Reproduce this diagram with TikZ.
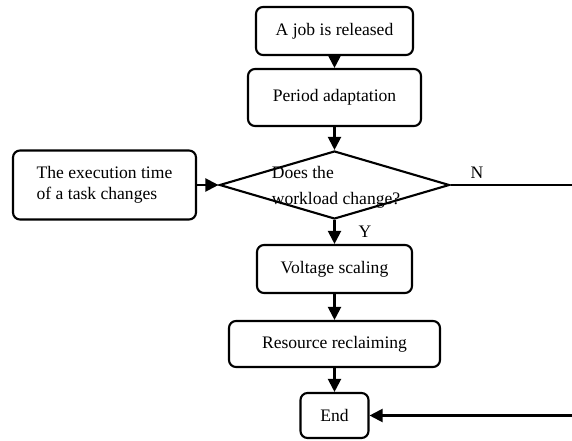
\documentclass[tikz,border=0pt]{standalone}
\usepackage{fontspec}
\setmainfont{Liberation Serif}
\usetikzlibrary{shapes.geometric,arrows.meta}

\begin{document}
\begin{tikzpicture}[
  font=\fontsize{10}{12}\selectfont,
  stepbox/.style={draw, line width=1.2pt, rounded corners=4pt, align=center, inner sep=0pt},
  arr/.style={-{Triangle[length=7.5pt,width=7.5pt]}, line width=1.2pt}]
\useasboundingbox (0,0) rectangle (11.44,8.8);

\node[stepbox, minimum width=3.14cm, minimum height=0.96cm] (job) at (6.69,8.18) {A job is released};
\node[stepbox, minimum width=3.46cm, minimum height=1.14cm] (period) at (6.69,6.85) {Period adaptation};
\node[draw, diamond, line width=1.2pt, minimum width=4.6cm, minimum height=1.36cm, inner sep=0pt] (dec) at (6.69,5.1) {};
\node[align=left, font=\fontsize{10}{15}\selectfont] (dectext) at (6.72,5.06) {Does the\\workload change?};
\node[stepbox, align=left, minimum width=3.66cm, minimum height=1.38cm] (exec) at (2.09,5.1) {The execution time\\of a task changes};
\node[stepbox, minimum width=3.1cm, minimum height=0.96cm] (volt) at (6.69,3.42) {Voltage scaling};
\node[stepbox, minimum width=4.22cm, minimum height=0.92cm] (res) at (6.69,1.92) {Resource reclaiming};
\node[stepbox, minimum width=1.36cm, minimum height=0.9cm] (end) at (6.69,0.49) {End};

\node (ylab) at (7.3,4.16) {Y};
\node (nlab) at (9.54,5.34) {N};
\coordinate (nout) at (11.44,5.1);
\coordinate (back) at (11.44,0.49);

\draw[arr] (job) -- (period);
\draw[arr] (period) -- (dec.north);
\draw[arr] (exec.east) -- (dec.west);
\draw[arr] (dec.south) -- (volt);
\draw[arr] (volt) -- (res);
\draw[arr] (res) -- (end);
\draw[line width=1.2pt] (dec.east) -- (nout);
\draw[arr] (back) -- (end.east);
\end{tikzpicture}
\end{document}
